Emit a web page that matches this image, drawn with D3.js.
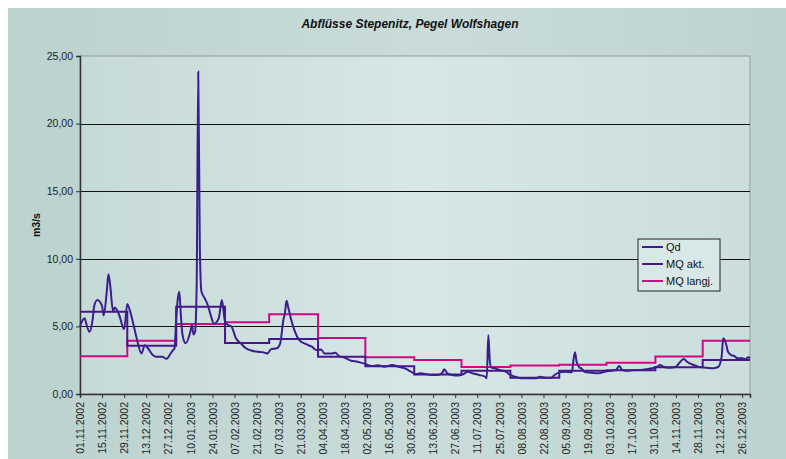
<!DOCTYPE html>
<html>
<head>
<meta charset="utf-8">
<script src="https://cdn.jsdelivr.net/npm/d3@7"></script>
<style>
body{margin:0;background:#fff}
svg{display:block;font-family:Arial,"Liberation Sans",sans-serif}
</style>
</head>
<body>
<svg width="786" height="459"></svg>
<script>
// daily discharge Qd
const qdDates=["2002-11-01","2002-11-04","2002-11-05","2002-11-07","2002-11-09","2002-11-10","2002-11-12","2002-11-15","2002-11-16","2002-11-18","2002-11-19","2002-11-20","2002-11-22","2002-11-23","2002-11-24","2002-11-26","2002-11-28","2002-11-29",
"2002-12-01","2002-12-02","2002-12-05","2002-12-07","2002-12-10","2002-12-12","2002-12-14","2002-12-17","2002-12-19","2002-12-23","2002-12-26","2002-12-28","2002-12-30","2002-12-31",
"2003-01-01","2003-01-02","2003-01-03","2003-01-04","2003-01-05","2003-01-07","2003-01-10","2003-01-11","2003-01-12","2003-01-13","2003-01-14","2003-01-15","2003-01-16","2003-01-17","2003-01-19","2003-01-21","2003-01-23","2003-01-25","2003-01-28","2003-01-30",
"2003-02-01","2003-02-03","2003-02-05","2003-02-08","2003-02-11","2003-02-14","2003-02-18","2003-02-22","2003-02-26","2003-02-28",
"2003-03-02","2003-03-06","2003-03-08","2003-03-10","2003-03-11","2003-03-12","2003-03-13","2003-03-15","2003-03-17","2003-03-20","2003-03-24","2003-03-28","2003-03-31",
"2003-04-03","2003-04-05","2003-04-10","2003-04-12","2003-04-14","2003-04-18","2003-04-22","2003-04-26",
"2003-05-01","2003-05-05","2003-05-09","2003-05-13","2003-05-18","2003-05-22","2003-05-26","2003-05-30",
"2003-06-02","2003-06-05","2003-06-08","2003-06-12","2003-06-16","2003-06-19","2003-06-20","2003-06-22","2003-06-25","2003-06-29",
"2003-07-02","2003-07-05","2003-07-08","2003-07-12","2003-07-16","2003-07-17","2003-07-18","2003-07-19","2003-07-20","2003-07-22","2003-07-25","2003-07-29",
"2003-08-01","2003-08-04","2003-08-08","2003-08-12","2003-08-17","2003-08-20","2003-08-23","2003-08-27","2003-08-29",
"2003-09-01","2003-09-05","2003-09-09","2003-09-10","2003-09-11","2003-09-12","2003-09-14","2003-09-15","2003-09-17","2003-09-21","2003-09-26","2003-09-30",
"2003-10-04","2003-10-07","2003-10-09","2003-10-11","2003-10-15","2003-10-19","2003-10-23","2003-10-26","2003-10-30",
"2003-11-02","2003-11-04","2003-11-06","2003-11-10","2003-11-14","2003-11-16","2003-11-19","2003-11-21","2003-11-24","2003-11-27","2003-11-30",
"2003-12-03","2003-12-08","2003-12-11","2003-12-13","2003-12-14","2003-12-16","2003-12-17","2003-12-19","2003-12-21","2003-12-23","2003-12-26","2003-12-28","2003-12-30","2003-12-31"];
const qdValues=[5.03,5.6,5.2,4.6,5.5,6.5,6.95,6.5,5.8,7.6,8.85,8.2,6.1,6.4,6.3,5.8,5.0,4.8,
6.66,6.4,5.1,4.1,3.0,3.6,3.4,2.9,2.76,2.76,2.6,2.9,3.25,3.4,
5.5,7.0,7.57,5.8,4.4,3.75,4.6,5.1,4.4,4.6,8.0,23.84,11.0,7.6,7.1,6.6,5.8,5.2,5.6,6.95,
5.35,5.1,5.0,4.1,3.75,3.4,3.2,3.13,3.06,3.0,
3.3,3.38,3.75,5.47,6.0,6.9,6.46,5.47,4.73,4.0,3.7,3.5,3.25,
3.3,3.0,3.0,3.06,2.83,2.68,2.46,2.39,
2.22,2.07,2.12,2.02,2.14,2.02,1.9,1.65,
1.46,1.53,1.48,1.41,1.41,1.6,1.83,1.53,1.41,1.36,
1.46,1.65,1.53,1.41,1.28,1.16,4.36,2.39,1.95,1.9,1.78,1.65,
1.41,1.28,1.16,1.16,1.16,1.28,1.21,1.21,1.41,
1.6,1.65,1.6,2.5,3.08,2.39,1.95,1.9,1.65,1.58,1.53,1.65,
1.72,1.78,2.07,1.78,1.72,1.78,1.78,1.83,1.9,
2.02,2.14,2.02,1.95,2.02,2.27,2.59,2.39,2.2,2.07,1.97,
1.95,1.9,2.02,2.76,4.12,3.62,3.13,2.88,2.81,2.64,2.64,2.57,2.71,2.64];

// monthly means
const months=["2002-11-01","2002-12-01","2003-01-01","2003-02-01","2003-03-01","2003-04-01","2003-05-01","2003-06-01","2003-07-01","2003-08-01","2003-09-01","2003-10-01","2003-11-01","2003-12-01"];
const mqAkt=[6.09,3.57,6.46,3.78,4.07,2.76,2.05,1.45,1.72,1.21,1.72,1.76,1.97,2.51];
const mqLangj=[2.8,3.94,5.18,5.30,5.89,4.14,2.72,2.51,2.0,2.1,2.17,2.32,2.78,3.93];
const startDate="2002-11-01", endDate="2003-12-31";

const yTicks=[0,5,10,15,20,25];
const seriesNames=["Qd","MQ akt.","MQ langj."];
const seriesColors=["#3b1e8c","#48168a","#cc0a84"];

const parse=d3.utcParse("%Y-%m-%d");
const svg=d3.select("svg");
const pLeft=80, pTop=56, pRight=750, pBottom=394;

const defs=svg.append("defs");
const g1=defs.append("linearGradient").attr("id","outer");
g1.append("stop").attr("offset","0%").attr("stop-color","#bcd2cf");
g1.append("stop").attr("offset","55%").attr("stop-color","#c9dcda");
g1.append("stop").attr("offset","100%").attr("stop-color","#bed3d1");
const g2=defs.append("linearGradient").attr("id","plot");
g2.append("stop").attr("offset","0%").attr("stop-color","#c6dad7");
g2.append("stop").attr("offset","50%").attr("stop-color","#d6e7e6");
g2.append("stop").attr("offset","100%").attr("stop-color","#cbdedc");

svg.append("rect").attr("x",8).attr("y",8).attr("width",778).attr("height",451).attr("fill","url(#outer)");
svg.append("rect").attr("x",pLeft).attr("y",pTop).attr("width",pRight-pLeft).attr("height",pBottom-pTop)
   .attr("fill","url(#plot)").attr("stroke","#9a9a9a").attr("stroke-width",1);

const x=d3.scaleUtc().domain([parse(startDate),parse(endDate)]).range([pLeft,pRight]);
const y=d3.scaleLinear().domain([0,25]).range([pBottom,pTop]);

// gridlines
svg.append("g").selectAll("line").data(yTicks.filter(d=>d>0&&d<25)).enter().append("line")
   .attr("x1",pLeft).attr("x2",pRight).attr("y1",d=>Math.round(y(d))+0.5).attr("y2",d=>Math.round(y(d))+0.5)
   .attr("stroke","#111").attr("stroke-width",1);

// y axis
const yAxis=svg.append("g").attr("transform","translate("+pLeft+",0)")
   .call(d3.axisLeft(y).tickValues(yTicks).tickSize(4).tickFormat(d=>d3.format(".2f")(d).replace(".",",")));
yAxis.select(".domain").attr("stroke","#333").attr("stroke-width",1.5);
yAxis.selectAll(".tick line").attr("stroke","#333");
yAxis.selectAll("text").attr("font-size","10.5px").attr("fill","#222").attr("font-family","Arial,'Liberation Sans',sans-serif");

// x axis, a tick every 14 days
const xTicks=d3.utcDay.range(parse(startDate),parse(endDate)).filter((d,i)=>i%14===0);
const xAxis=svg.append("g").attr("transform","translate(0,"+pBottom+")")
   .call(d3.axisBottom(x).tickValues(xTicks).tickSize(4).tickFormat(d3.utcFormat("%d.%m.%Y")));
xAxis.select(".domain").attr("stroke","#333").attr("stroke-width",1.5);
xAxis.selectAll(".tick line").attr("stroke","#333");
xAxis.selectAll("text").attr("font-size","10.5px").attr("fill","#222").attr("font-family","Arial,'Liberation Sans',sans-serif")
   .attr("text-anchor","end").attr("transform","rotate(-90)").attr("x",-8).attr("y",0).attr("dy","0.35em");

// step series
function stepData(vals){
  const pts=months.map((m,i)=>[parse(m),vals[i]]);
  pts.push([parse(endDate),vals[vals.length-1]]);
  return pts;
}
const stepLine=d3.line().x(d=>x(d[0])).y(d=>y(d[1])).curve(d3.curveStepAfter);
svg.append("path").attr("d",stepLine(stepData(mqLangj))).attr("fill","none")
   .attr("stroke",seriesColors[2]).attr("stroke-width",2);
svg.append("path").attr("d",stepLine(stepData(mqAkt))).attr("fill","none")
   .attr("stroke",seriesColors[1]).attr("stroke-width",2);

const qdLine=d3.line().x((d,i)=>x(parse(qdDates[i]))).y(d=>y(d)).curve(d3.curveMonotoneX);
svg.append("path").attr("d",qdLine(qdValues)).attr("fill","none")
   .attr("stroke",seriesColors[0]).attr("stroke-width",2);

// title
svg.append("text").attr("x",410).attr("y",28).attr("text-anchor","middle")
   .attr("font-size","12px").attr("font-weight","bold").attr("font-style","italic").attr("fill","#111")
   .text("Abflüsse Stepenitz, Pegel Wolfshagen");

// y label
svg.append("text").attr("transform","translate(40,225) rotate(-90)").attr("text-anchor","middle")
   .attr("font-size","10.5px").attr("font-weight","bold").attr("fill","#111").text("m3/s");

// legend
const lg=svg.append("g").attr("transform","translate(638,239)");
lg.append("rect").attr("width",82).attr("height",52).attr("fill","#d8e8e6").attr("stroke","#222");
seriesNames.forEach((n,i)=>{
  lg.append("line").attr("x1",4).attr("x2",25).attr("y1",8+i*17).attr("y2",8+i*17)
    .attr("stroke",seriesColors[i]).attr("stroke-width",2);
  lg.append("text").attr("x",28).attr("y",8+i*17).attr("dy","0.35em").attr("font-size","11px")
    .attr("fill","#111").text(n);
});
</script>
</body>
</html>
